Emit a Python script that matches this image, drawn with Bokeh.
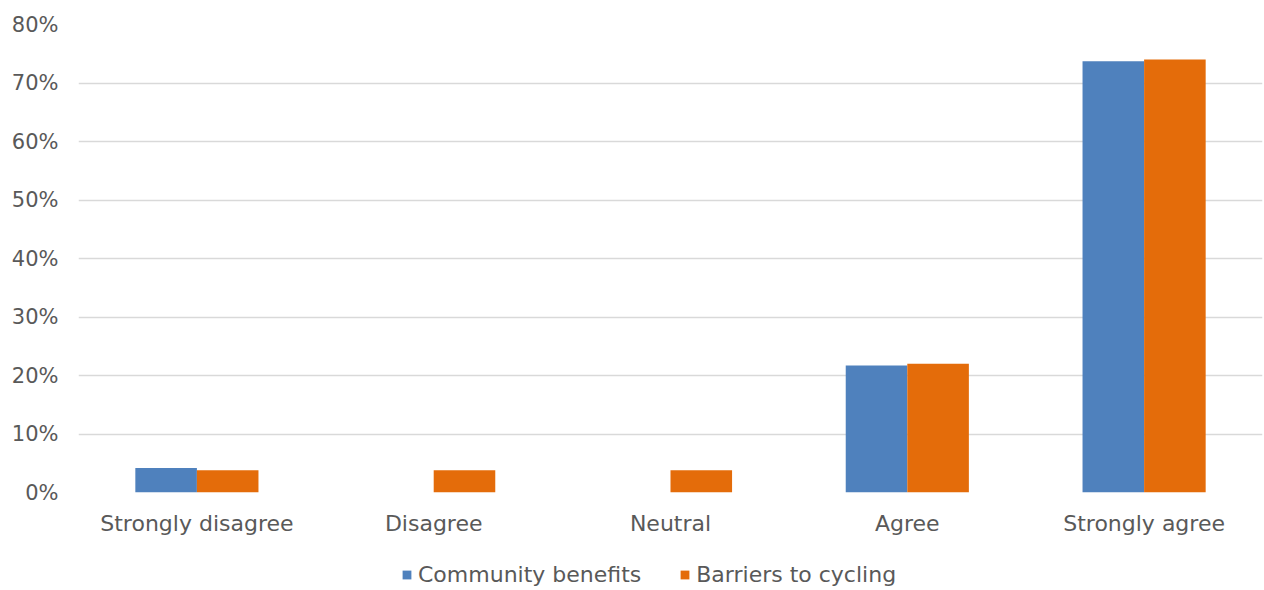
from bokeh.plotting import figure
from bokeh.layouts import column
from bokeh.models import FactorRange, Range1d, FixedTicker, Legend, LegendItem, ColumnDataSource
from bokeh.transform import dodge
from bokeh.embed import file_html
from bokeh.resources import INLINE

categories = ["Strongly disagree", "Disagree", "Neutral", "Agree", "Strongly agree"]
community_benefits = [4.2, 0.0, 0.0, 21.7, 73.7]
barriers_to_cycling = [3.8, 3.8, 3.8, 22.0, 74.0]
y_ticks = [0, 10, 20, 30, 40, 50, 60, 70, 80]
y_tick_labels = ["0%", "10%", "20%", "30%", "40%", "50%", "60%", "70%", "80%"]
series_names = ["Community benefits", "Barriers to cycling"]
colors = ["#4F81BD", "#E46C0A"]

FONT = "DejaVu Sans"
TEXT = "#595959"

src = ColumnDataSource(dict(cat=categories, cb=community_benefits, bc=barriers_to_cycling))

p = figure(x_range=FactorRange(*categories, range_padding=0), y_range=Range1d(0, 80),
           width=1264, height=546, frame_width=1184, frame_height=468,
           min_border_left=78, min_border_right=2, min_border_top=24, min_border_bottom=54,
           output_backend="svg", toolbar_location=None, outline_line_color=None,
           background_fill_color="white", border_fill_color="white")

r1 = p.vbar(x=dodge("cat", -0.13, range=p.x_range), top="cb", width=0.26, source=src,
            fill_color=colors[0], line_color=None)
r2 = p.vbar(x=dodge("cat", 0.13, range=p.x_range), top="bc", width=0.26, source=src,
            fill_color=colors[1], line_color=None)

p.yaxis.ticker = FixedTicker(ticks=y_ticks)
p.yaxis.major_label_overrides = {t: l for t, l in zip(y_ticks, y_tick_labels)}
for ax in (p.xaxis[0], p.yaxis[0]):
    ax.axis_line_color = None
    ax.major_tick_line_color = None
    ax.minor_tick_line_color = None
    ax.major_tick_out = 0
    ax.major_tick_in = 0
    ax.minor_tick_out = 0
    ax.major_label_text_font = FONT
    ax.major_label_text_color = TEXT
p.yaxis.major_label_text_font_size = "21px"
p.xaxis.major_label_text_font_size = "22px"
p.yaxis.major_label_standoff = 20
p.xaxis.major_label_standoff = 18
p.xgrid.grid_line_color = None
p.ygrid.grid_line_color = "#D9D9D9"
p.ygrid.grid_line_width = 1.5

# legend strip below the chart (its bars sit outside its visible y range)
lf = figure(width=1264, height=44, x_range=FactorRange(*categories), y_range=Range1d(100, 101),
            min_border=0, output_backend="svg", toolbar_location=None,
            outline_line_color=None, background_fill_color="white", border_fill_color="white")
lf.axis.visible = False
lf.grid.visible = False
l1 = lf.vbar(x="cat", top="cb", width=0.26, source=src, fill_color=colors[0], line_color=None)
l2 = lf.vbar(x="cat", top="bc", width=0.26, source=src, fill_color=colors[1], line_color=None)
legend = Legend(items=[LegendItem(label=series_names[0], renderers=[l1]),
                       LegendItem(label=series_names[1], renderers=[l2])],
                orientation="horizontal", location=(323, 3),
                label_text_font=FONT, label_text_font_size="22px", label_text_color=TEXT,
                glyph_width=11, glyph_height=11, spacing=38, padding=0, margin=0,
                border_line_color=None, background_fill_alpha=0, label_standoff=6)
lf.add_layout(legend, "center")

layout = column(p, lf, spacing=0)
open("out.html", "w").write(file_html(layout, INLINE))
